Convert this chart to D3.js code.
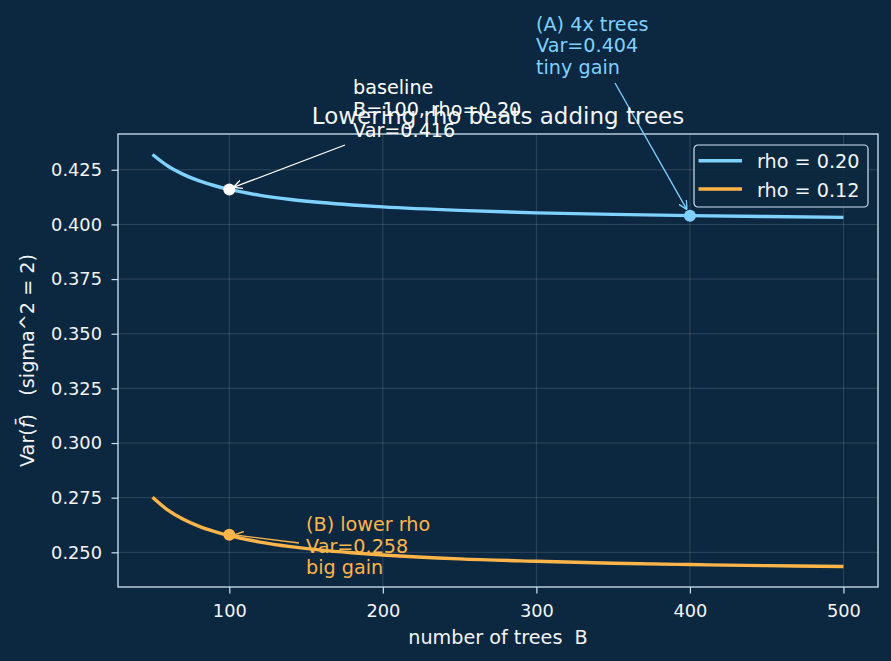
<!DOCTYPE html>
<html><head><meta charset="utf-8">
<script src="https://cdn.jsdelivr.net/npm/d3@7"></script>
<style>
html,body{margin:0;padding:0;background:#0c2840;}
text{font-family:"DejaVu Sans",sans-serif;white-space:pre;}
</style></head>
<body>
<svg id="chart" width="891" height="661"></svg>
<script>
// Data
const treesB = [50, 60, 70, 80, 90, 100, 120, 140, 160, 180, 200, 250, 300, 350, 400, 450, 500];
const varRho20 = [0.4320, 0.4267, 0.4229, 0.4200, 0.4178, 0.4160, 0.4133, 0.4114, 0.4100, 0.4089, 0.4080, 0.4064, 0.4053, 0.4046, 0.4040, 0.4036, 0.4032];
const varRho12 = [0.2752, 0.2693, 0.2651, 0.2620, 0.2596, 0.2576, 0.2547, 0.2526, 0.2510, 0.2498, 0.2488, 0.2470, 0.2459, 0.2450, 0.2444, 0.2439, 0.2435];
const seriesNames = ["rho = 0.20", "rho = 0.12"];
const xTicks = [100, 200, 300, 400, 500];
const yTicks = [0.250, 0.275, 0.300, 0.325, 0.350, 0.375, 0.400, 0.425];
const baselinePt = {B: 100, v: 0.416};
const pointA = {B: 400, v: 0.404};
const pointB = {B: 100, v: 0.258};

const W = 891, H = 661;
const m = {left: 118, right: 13, top: 134, bottom: 74};
const pw = W - m.left - m.right, ph = H - m.top - m.bottom;
const blue = "#7fd1ff", orange = "#fdb54a", fg = "#f2f4f7", spine = "#cfe2f3";
const fsTick = 17.8, fsLabel = 19.2, fsTitle = 23, lineGap = 21.5;

const svg = d3.select("#chart");
svg.append("rect").attr("width", W).attr("height", H).attr("fill", "#0c2840");

const x = d3.scaleLinear().domain([27.5, 522.5]).range([m.left, m.left + pw]);
const y = d3.scaleLinear().domain([0.23414, 0.44136]).range([m.top + ph, m.top]);

// grid
const g = svg.append("g");
g.selectAll(".gx").data(xTicks).enter().append("line")
  .attr("x1", d => x(d)).attr("x2", d => x(d)).attr("y1", m.top).attr("y2", m.top + ph)
  .attr("stroke", "#ffffff").attr("stroke-opacity", 0.18).attr("stroke-width", 0.8);
g.selectAll(".gy").data(yTicks).enter().append("line")
  .attr("y1", d => y(d)).attr("y2", d => y(d)).attr("x1", m.left).attr("x2", m.left + pw)
  .attr("stroke", "#ffffff").attr("stroke-opacity", 0.18).attr("stroke-width", 0.8);

// axes
const xAxis = svg.append("g").attr("transform", `translate(0,${m.top + ph})`)
  .call(d3.axisBottom(x).tickValues(xTicks).tickSize(6.5).tickPadding(10.5).tickFormat(d3.format("d")));
const yAxis = svg.append("g").attr("transform", `translate(${m.left},0)`)
  .call(d3.axisLeft(y).tickValues(yTicks).tickSize(6.5).tickPadding(9.5).tickFormat(d3.format(".3f")));
[xAxis, yAxis].forEach(a => {
  a.select(".domain").remove();
  a.selectAll(".tick line").attr("stroke", spine).attr("stroke-width", 1.2);
  a.selectAll(".tick text").attr("fill", fg).attr("font-size", fsTick).attr("font-family", "DejaVu Sans");
});
svg.append("rect").attr("x", m.left).attr("y", m.top).attr("width", pw).attr("height", ph)
  .attr("fill", "none").attr("stroke", spine).attr("stroke-width", 1.3);

// lines
const line = d3.line().x(d => x(d[0])).y(d => y(d[1])).curve(d3.curveMonotoneX);
const s20 = treesB.map((b, i) => [b, varRho20[i]]);
const s12 = treesB.map((b, i) => [b, varRho12[i]]);
svg.append("path").datum(s20).attr("d", line).attr("fill", "none").attr("stroke", blue).attr("stroke-width", 3.4);
svg.append("path").datum(s12).attr("d", line).attr("fill", "none").attr("stroke", orange).attr("stroke-width", 3.4);

// markers
svg.append("circle").attr("cx", x(baselinePt.B)).attr("cy", y(baselinePt.v)).attr("r", 6).attr("fill", "#ffffff");
svg.append("circle").attr("cx", x(pointA.B)).attr("cy", y(pointA.v)).attr("r", 6).attr("fill", blue);
svg.append("circle").attr("cx", x(pointB.B)).attr("cy", y(pointB.v)).attr("r", 6).attr("fill", orange);

// arrow markers
const defs = svg.append("defs");
function arrowHead(id, color) {
  defs.append("marker").attr("id", id).attr("viewBox", "0 0 10 10").attr("refX", 10).attr("refY", 5)
    .attr("markerWidth", 9).attr("markerHeight", 9).attr("markerUnits", "userSpaceOnUse").attr("orient", "auto")
    .append("path").attr("d", "M0,0 L10,5 L0,10").attr("fill", "none").attr("stroke", color).attr("stroke-width", 1.5);
}
arrowHead("ahW", "#ffffff"); arrowHead("ahB", blue); arrowHead("ahO", orange);

function annotate(lines, tx, ty, color, fromX, fromY, toX, toY, mk) {
  svg.append("line").attr("x1", fromX).attr("y1", fromY).attr("x2", toX).attr("y2", toY)
    .attr("stroke", color).attr("stroke-width", 1.3).attr("marker-end", `url(#${mk})`);
  const t = svg.append("text").attr("x", tx).attr("y", ty).attr("fill", color).attr("font-size", fsLabel);
  lines.forEach((l, i) => t.append("tspan").attr("x", tx).attr("dy", i === 0 ? 0 : lineGap).text(l));
}
// (A)
annotate(["(A) 4x trees", "Var=0.404", "tiny gain"], 536, 30.5, blue, 615, 83, x(pointA.B) - 3, y(pointA.v) - 6, "ahB");
// (B)
annotate(["(B) lower rho", "Var=0.258", "big gain"], 306, 531, orange, 299, 543, x(pointB.B) + 5, y(pointB.v), "ahO");

// title
svg.append("text").attr("x", m.left + pw / 2).attr("y", 123.5).attr("text-anchor", "middle")
  .attr("fill", fg).attr("font-size", fsTitle).text("Lowering rho beats adding trees");

// baseline (drawn after title, overlapping like reference)
annotate(["baseline", "B=100, rho=0.20", "Var=0.416"], 353, 94, "#ffffff", 345, 145, x(baselinePt.B) + 4, y(baselinePt.v) - 2, "ahW");

// axis labels
svg.append("text").attr("x", m.left + pw / 2).attr("y", 643.5).attr("text-anchor", "middle")
  .attr("fill", fg).attr("font-size", fsLabel).text("number of trees  B");
const yl = svg.append("text").attr("transform", `translate(33.5,${m.top + ph / 2}) rotate(-90)`)
  .attr("text-anchor", "middle").attr("fill", fg).attr("font-size", fsLabel);
yl.append("tspan").text("Var(");
yl.append("tspan").attr("font-style", "italic").text("f\u0304");
yl.append("tspan").text(")   (sigma^2 = 2)");

// legend
const lg = svg.append("g").attr("transform", "translate(694,145)");
lg.append("rect").attr("width", 174).attr("height", 62).attr("rx", 4)
  .attr("fill", "#0c2840").attr("fill-opacity", 0.85).attr("stroke", spine).attr("stroke-width", 1.2);
[[seriesNames[0], blue], [seriesNames[1], orange]].forEach((d, i) => {
  const yy = 15.7 + i * 28.3;
  lg.append("line").attr("x1", 4.5).attr("x2", 48).attr("y1", yy).attr("y2", yy).attr("stroke", d[1]).attr("stroke-width", 3.4);
  lg.append("text").attr("x", 63).attr("y", yy + 7.6).attr("fill", fg).attr("font-size", fsLabel).text(d[0]);
});
</script>
</body></html>
